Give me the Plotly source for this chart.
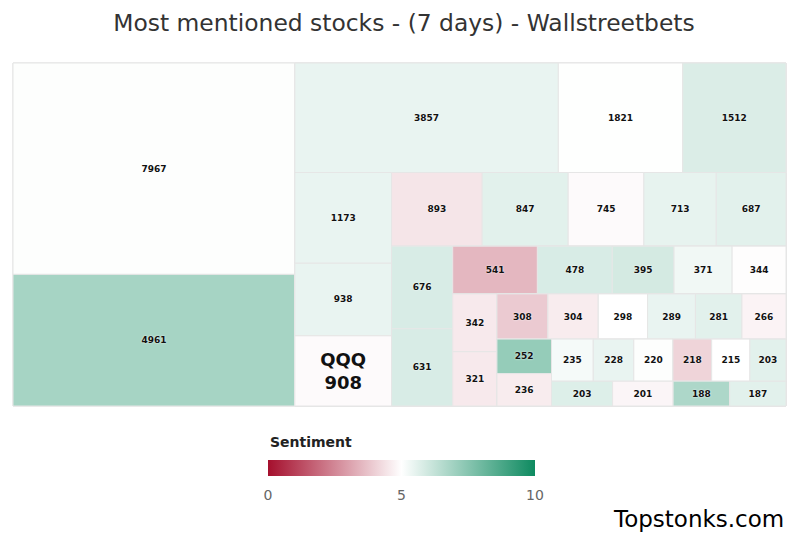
import plotly.graph_objects as go

# Leaves grouped in the strips (rows / columns) of the reference layout
strips = [
    [7967, 4961],
    [3857, 1821, 1512],
    [1173, 938, 908],
    [893, 847, 745, 713, 687],
    [676, 631],
    [541, 478, 395, 371, 344],
    [342, 321],
    [308, 304, 298, 289, 281, 266],
    [252, 236],
    [235, 228, 220, 218, 215, 203],
    [203, 201, 188, 187],
]
sentiments = [
    [5.05, 6.85],
    [5.45, 5.02, 5.75],
    [5.45, 5.45, 4.9],
    [4.45, 5.6, 4.9, 5.5, 5.6],
    [5.8, 5.8],
    [3.5, 5.8, 5.9, 5.3, 4.95],
    [4.55, 4.55],
    [3.9, 4.6, 5.0, 5.45, 5.6, 4.75],
    [7.2, 4.6],
    [5.2, 5.45, 5.05, 4.1, 5.0, 5.6],
    [5.7, 4.8, 6.7, 5.6],
]
tickers = {(2, 2): "QQQ"}
colorbar_ticks = [0, 5, 10]

ids, parents, labels, vals, cols, tmpl, sizes = [], [], [], [], [], [], []

def add(i, p, lab, v, c, t, s):
    ids.append(i); parents.append(p); labels.append(lab)
    vals.append(v); cols.append(c); tmpl.append(t); sizes.append(s)

add("root", "", "root", 0, 5, "", 9)
parent = "root"
n = len(strips)
for k, (strip, sent) in enumerate(zip(strips, sentiments)):
    strip_id = f"strip{k}"
    add(strip_id, parent, strip_id, 0, 5, "", 9)
    for j, (v, s) in enumerate(zip(strip, sent)):
        t = tickers.get((k, j))
        if t:
            add(f"leaf{k}_{j}", strip_id, t, v, s, "<b>" + t + "<br>%{value}</b>", 18)
        else:
            add(f"leaf{k}_{j}", strip_id, str(v), v, s, "<b>%{value}</b>", 9)
    if k < n - 2:
        rest_id = f"rest{k}"
        add(rest_id, parent, rest_id, 0, 5, "", 9)
        parent = rest_id

colorscale = [[0.0, "#a50f2d"], [0.5, "#ffffff"], [1.0, "#0e8a60"]]

fig = go.Figure(go.Treemap(
    ids=ids,
    labels=labels,
    parents=parents,
    values=vals,
    branchvalues="remainder",
    sort=False,
    texttemplate=tmpl,
    textposition="middle center",
    textfont=dict(size=sizes, color="#111111", family="DejaVu Sans",
                  shadow="0px 0px 2px white"),
    marker=dict(
        colors=cols,
        colorscale=colorscale,
        cmin=0, cmax=10,
        line=dict(color="#e6e6e6", width=1),
        pad=dict(t=0, l=0, r=0, b=0),
        colorbar=dict(
            orientation="h",
            thickness=16,
            len=267, lenmode="pixels",
            x=0.5026, xanchor="center",
            y=-0.157, yanchor="top",
            xpad=0, ypad=0,
            outlinewidth=0,
            tickvals=colorbar_ticks,
            ticks="outside", ticklen=8, tickcolor="rgba(0,0,0,0)",
            tickfont=dict(size=14, color="#666666", family="DejaVu Sans"),
        ),
    ),
    tiling=dict(packing="slice-dice", pad=0),
    pathbar=dict(visible=False),
    hoverinfo="label+value",
))

fig.update_layout(
    width=792, height=525,
    margin=dict(l=5, r=14, t=55, b=127, autoexpand=False),
    paper_bgcolor="white",
    title=dict(text="Most mentioned stocks - (7 days) - Wallstreetbets",
               x=0.5, xanchor="center", y=0.971, yanchor="middle",
               font=dict(size=23.4, color="#333333", family="DejaVu Sans")),
    annotations=[
        dict(text="Topstonks.com", xref="paper", yref="paper",
             x=1.0, xanchor="right", y=-0.329, yanchor="middle",
             showarrow=False,
             font=dict(size=23, color="#000000", family="DejaVu Sans")),
        dict(text="<b>Sentiment</b>", xref="paper", yref="paper",
             x=0.33, xanchor="left", y=-0.105, yanchor="middle",
             showarrow=False,
             font=dict(size=14, color="#222222", family="DejaVu Sans")),
    ],
)

fig.write_html("out.html")
